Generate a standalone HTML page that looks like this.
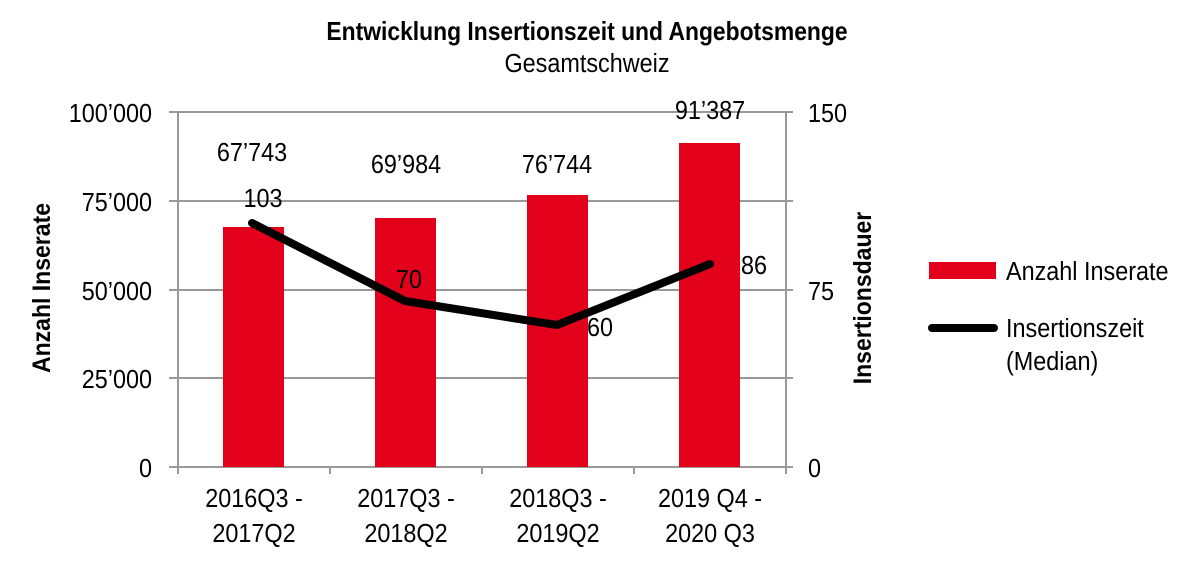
<!DOCTYPE html>
<html><head><style>body{margin:0;background:#fff}svg{display:block}text{font-family:"Liberation Sans",Arial,sans-serif;fill:#000}</style></head><body>
<svg width="1200" height="580" viewBox="0 0 1200 580">
<text x="587" y="40" font-size="26" font-weight="bold" text-anchor="middle" transform="translate(587 0) scale(0.88 1) translate(-587 0)">Entwicklung Insertionszeit und Angebotsmenge</text>
<text x="587" y="72" font-size="26" text-anchor="middle" transform="translate(587 0) scale(0.9 1) translate(-587 0)">Gesamtschweiz</text>
<g stroke="#999" stroke-width="2">
<line x1="169" y1="112" x2="793" y2="112"/><line x1="169" y1="201" x2="793" y2="201"/><line x1="169" y1="290" x2="793" y2="290"/><line x1="169" y1="378" x2="793" y2="378"/><line x1="169" y1="467" x2="793" y2="467"/>
<line x1="178" y1="112" x2="178" y2="474"/><line x1="786" y1="112" x2="786" y2="474"/>
<line x1="330" y1="467" x2="330" y2="474"/><line x1="482" y1="467" x2="482" y2="474"/><line x1="634" y1="467" x2="634" y2="474"/>
</g>
<g fill="#e3001b">
<rect x="223" y="227" width="61" height="240"/><rect x="375" y="218" width="61" height="249"/><rect x="527" y="195" width="61" height="272"/><rect x="679" y="143" width="61" height="324"/>
</g>
<polyline points="252,223 405,301 557,325 710,264" fill="none" stroke="#000" stroke-width="8" stroke-linecap="round" stroke-linejoin="round"/>
<g class="c" font-size="26">
<g text-anchor="end">
<text x="152" y="122">100’000</text><text x="152" y="211">75’000</text><text x="152" y="300">50’000</text><text x="152" y="388">25’000</text><text x="152" y="477">0</text>
</g>
<text x="808" y="122">150</text><text x="808" y="300">75</text><text x="808" y="477">0</text>
<g text-anchor="middle">
<text x="252" y="161">67’743</text><text x="406" y="173">69’984</text><text x="557" y="173">76’744</text><text x="710" y="119">91’387</text>
<text x="263" y="207">103</text><text x="409" y="288">70</text><text x="600" y="336">60</text><text x="754" y="274">86</text>
<text x="254" y="507">2016Q3 -</text><text x="254" y="542">2017Q2</text>
<text x="406" y="507">2017Q3 -</text><text x="406" y="542">2018Q2</text>
<text x="558" y="507">2018Q3 -</text><text x="558" y="542">2019Q2</text>
<text x="710" y="507">2019 Q4 -</text><text x="710" y="542">2020 Q3</text>
</g>
<text x="1006" y="280">Anzahl Inserate</text>
<text x="1006" y="337">Insertionszeit</text>
<text x="1006" y="370">(Median)</text>
</g>
<text transform="translate(50 288) rotate(-90) scale(0.92 1)" font-size="25" font-weight="bold" text-anchor="middle">Anzahl Inserate</text>
<text transform="translate(871 298) rotate(-90) scale(0.92 1)" font-size="25" font-weight="bold" text-anchor="middle">Insertionsdauer</text>
<rect x="929" y="262" width="67" height="17" fill="#e3001b"/>
<line x1="932" y1="328" x2="994" y2="328" stroke="#000" stroke-width="8" stroke-linecap="round"/>
</svg>
<script>
document.querySelectorAll('g.c text').forEach(function(t){var x=+t.getAttribute('x');t.setAttribute('transform','translate('+x+' 0) scale(0.9 1) translate('+(-x)+' 0)');});
</script>
</body></html>
